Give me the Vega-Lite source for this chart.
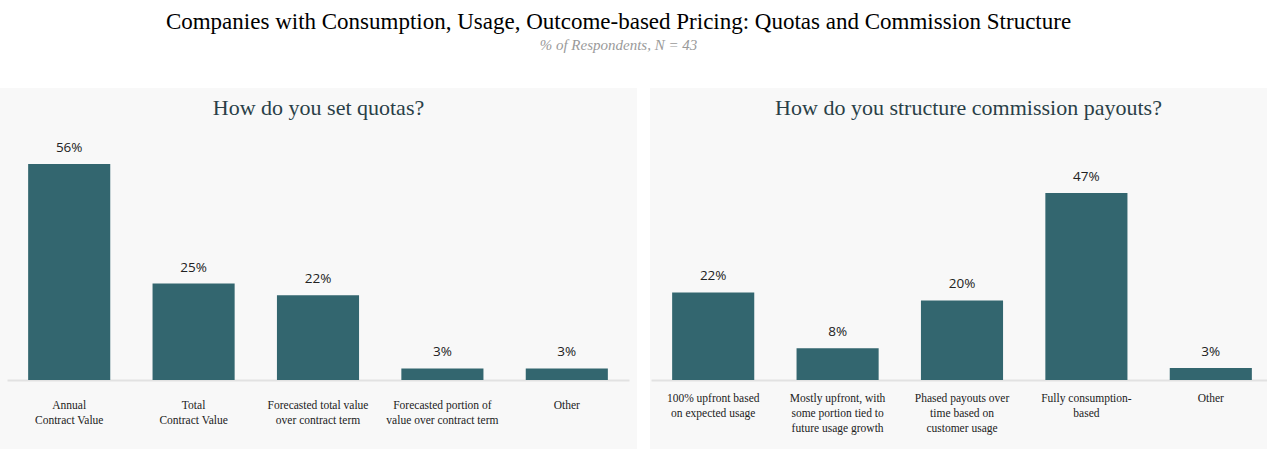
{
  "$schema": "https://vega.github.io/schema/vega-lite/v6.json",
  "background": "white",
  "padding": {"top": 11, "left": 0, "right": 0, "bottom": 0},
  "autosize": {"type": "pad"},
  "title": {
    "text": "Companies with Consumption, Usage, Outcome-based Pricing: Quotas and Commission Structure",
    "subtitle": "% of Respondents, N = 43",
    "font": "Liberation Serif",
    "fontSize": 23,
    "fontWeight": "normal",
    "color": "#000000",
    "subtitleFont": "Liberation Serif",
    "subtitleFontStyle": "italic",
    "subtitleFontSize": 15,
    "subtitleColor": "#9a9a9a",
    "subtitlePadding": 4,
    "anchor": "middle",
    "offset": 35,
    "dx": -25
  },
  "datasets": {
    "quotas": [
      {"answer": "Annual|Contract Value", "share": 0.56},
      {"answer": "Total|Contract Value", "share": 0.25},
      {"answer": "Forecasted total value|over contract term", "share": 0.22},
      {"answer": "Forecasted portion of|value over contract term", "share": 0.03},
      {"answer": "Other", "share": 0.03}
    ],
    "payouts": [
      {"answer": "100% upfront based|on expected usage", "share": 0.22},
      {"answer": "Mostly upfront, with|some portion tied to|future usage growth", "share": 0.08},
      {"answer": "Phased payouts over|time based on|customer usage", "share": 0.20},
      {"answer": "Fully consumption-|based", "share": 0.47},
      {"answer": "Other", "share": 0.03}
    ]
  },
  "spacing": 13,
  "hconcat": [
    {
      "width": 637,
      "height": 361,
      "title": {
        "text": "How do you set quotas?",
        "font": "Liberation Serif",
        "fontSize": 22,
        "fontWeight": "normal",
        "color": "#2a3f47",
        "anchor": "middle",
        "offset": -32
      },
      "data": {"name": "quotas"},
      "encoding": {
        "x": {
          "field": "answer",
          "type": "nominal",
          "sort": null,
          "scale": {"range": [7, 629], "paddingInner": 0.34, "paddingOuter": 0.17},
          "axis": {
            "title": null,
            "labelAngle": 0,
            "offset": -69,
            "ticks": false,
            "tickSize": 0,
            "domainColor": "#e2e2e2",
            "domainWidth": 2,
            "labelPadding": 19,
            "labelBaseline": "top",
            "labelFont": "Liberation Serif",
            "labelFontSize": 11.5,
            "labelColor": "#222222",
            "labelLineHeight": 15,
            "labelExpr": "split(datum.label, '|')"
          }
        },
        "y": {
          "field": "share",
          "type": "quantitative",
          "scale": {"domain": [0, 0.56], "range": [292, 76], "nice": false, "zero": true},
          "axis": null
        }
      },
      "layer": [
        {"mark": {"type": "bar", "color": "#33666f"}},
        {
          "mark": {"type": "text", "baseline": "bottom", "dy": -9, "font": "Open Sans", "fontSize": 13.5, "color": "#222222"},
          "encoding": {"text": {"field": "share", "type": "quantitative", "format": ".0%"}}
        }
      ]
    },
    {
      "width": 637,
      "height": 361,
      "title": {
        "text": "How do you structure commission payouts?",
        "font": "Liberation Serif",
        "fontSize": 22,
        "fontWeight": "normal",
        "color": "#2a3f47",
        "anchor": "middle",
        "offset": -32
      },
      "data": {"name": "payouts"},
      "encoding": {
        "x": {
          "field": "answer",
          "type": "nominal",
          "sort": null,
          "scale": {"range": [1, 623], "paddingInner": 0.34, "paddingOuter": 0.17},
          "axis": {
            "title": null,
            "labelAngle": 0,
            "offset": -69,
            "ticks": false,
            "tickSize": 0,
            "domainColor": "#e2e2e2",
            "domainWidth": 2,
            "labelPadding": 12,
            "labelBaseline": "top",
            "labelFont": "Liberation Serif",
            "labelFontSize": 11.5,
            "labelColor": "#222222",
            "labelLineHeight": 15,
            "labelExpr": "split(datum.label, '|')"
          }
        },
        "y": {
          "field": "share",
          "type": "quantitative",
          "scale": {"domain": [0, 0.47], "range": [292, 105], "nice": false, "zero": true},
          "axis": null
        }
      },
      "layer": [
        {"mark": {"type": "bar", "color": "#33666f"}},
        {
          "mark": {"type": "text", "baseline": "bottom", "dy": -9, "font": "Open Sans", "fontSize": 13.5, "color": "#222222"},
          "encoding": {"text": {"field": "share", "type": "quantitative", "format": ".0%"}}
        }
      ]
    }
  ],
  "config": {
    "view": {"fill": "#f8f8f8", "stroke": null}
  }
}
